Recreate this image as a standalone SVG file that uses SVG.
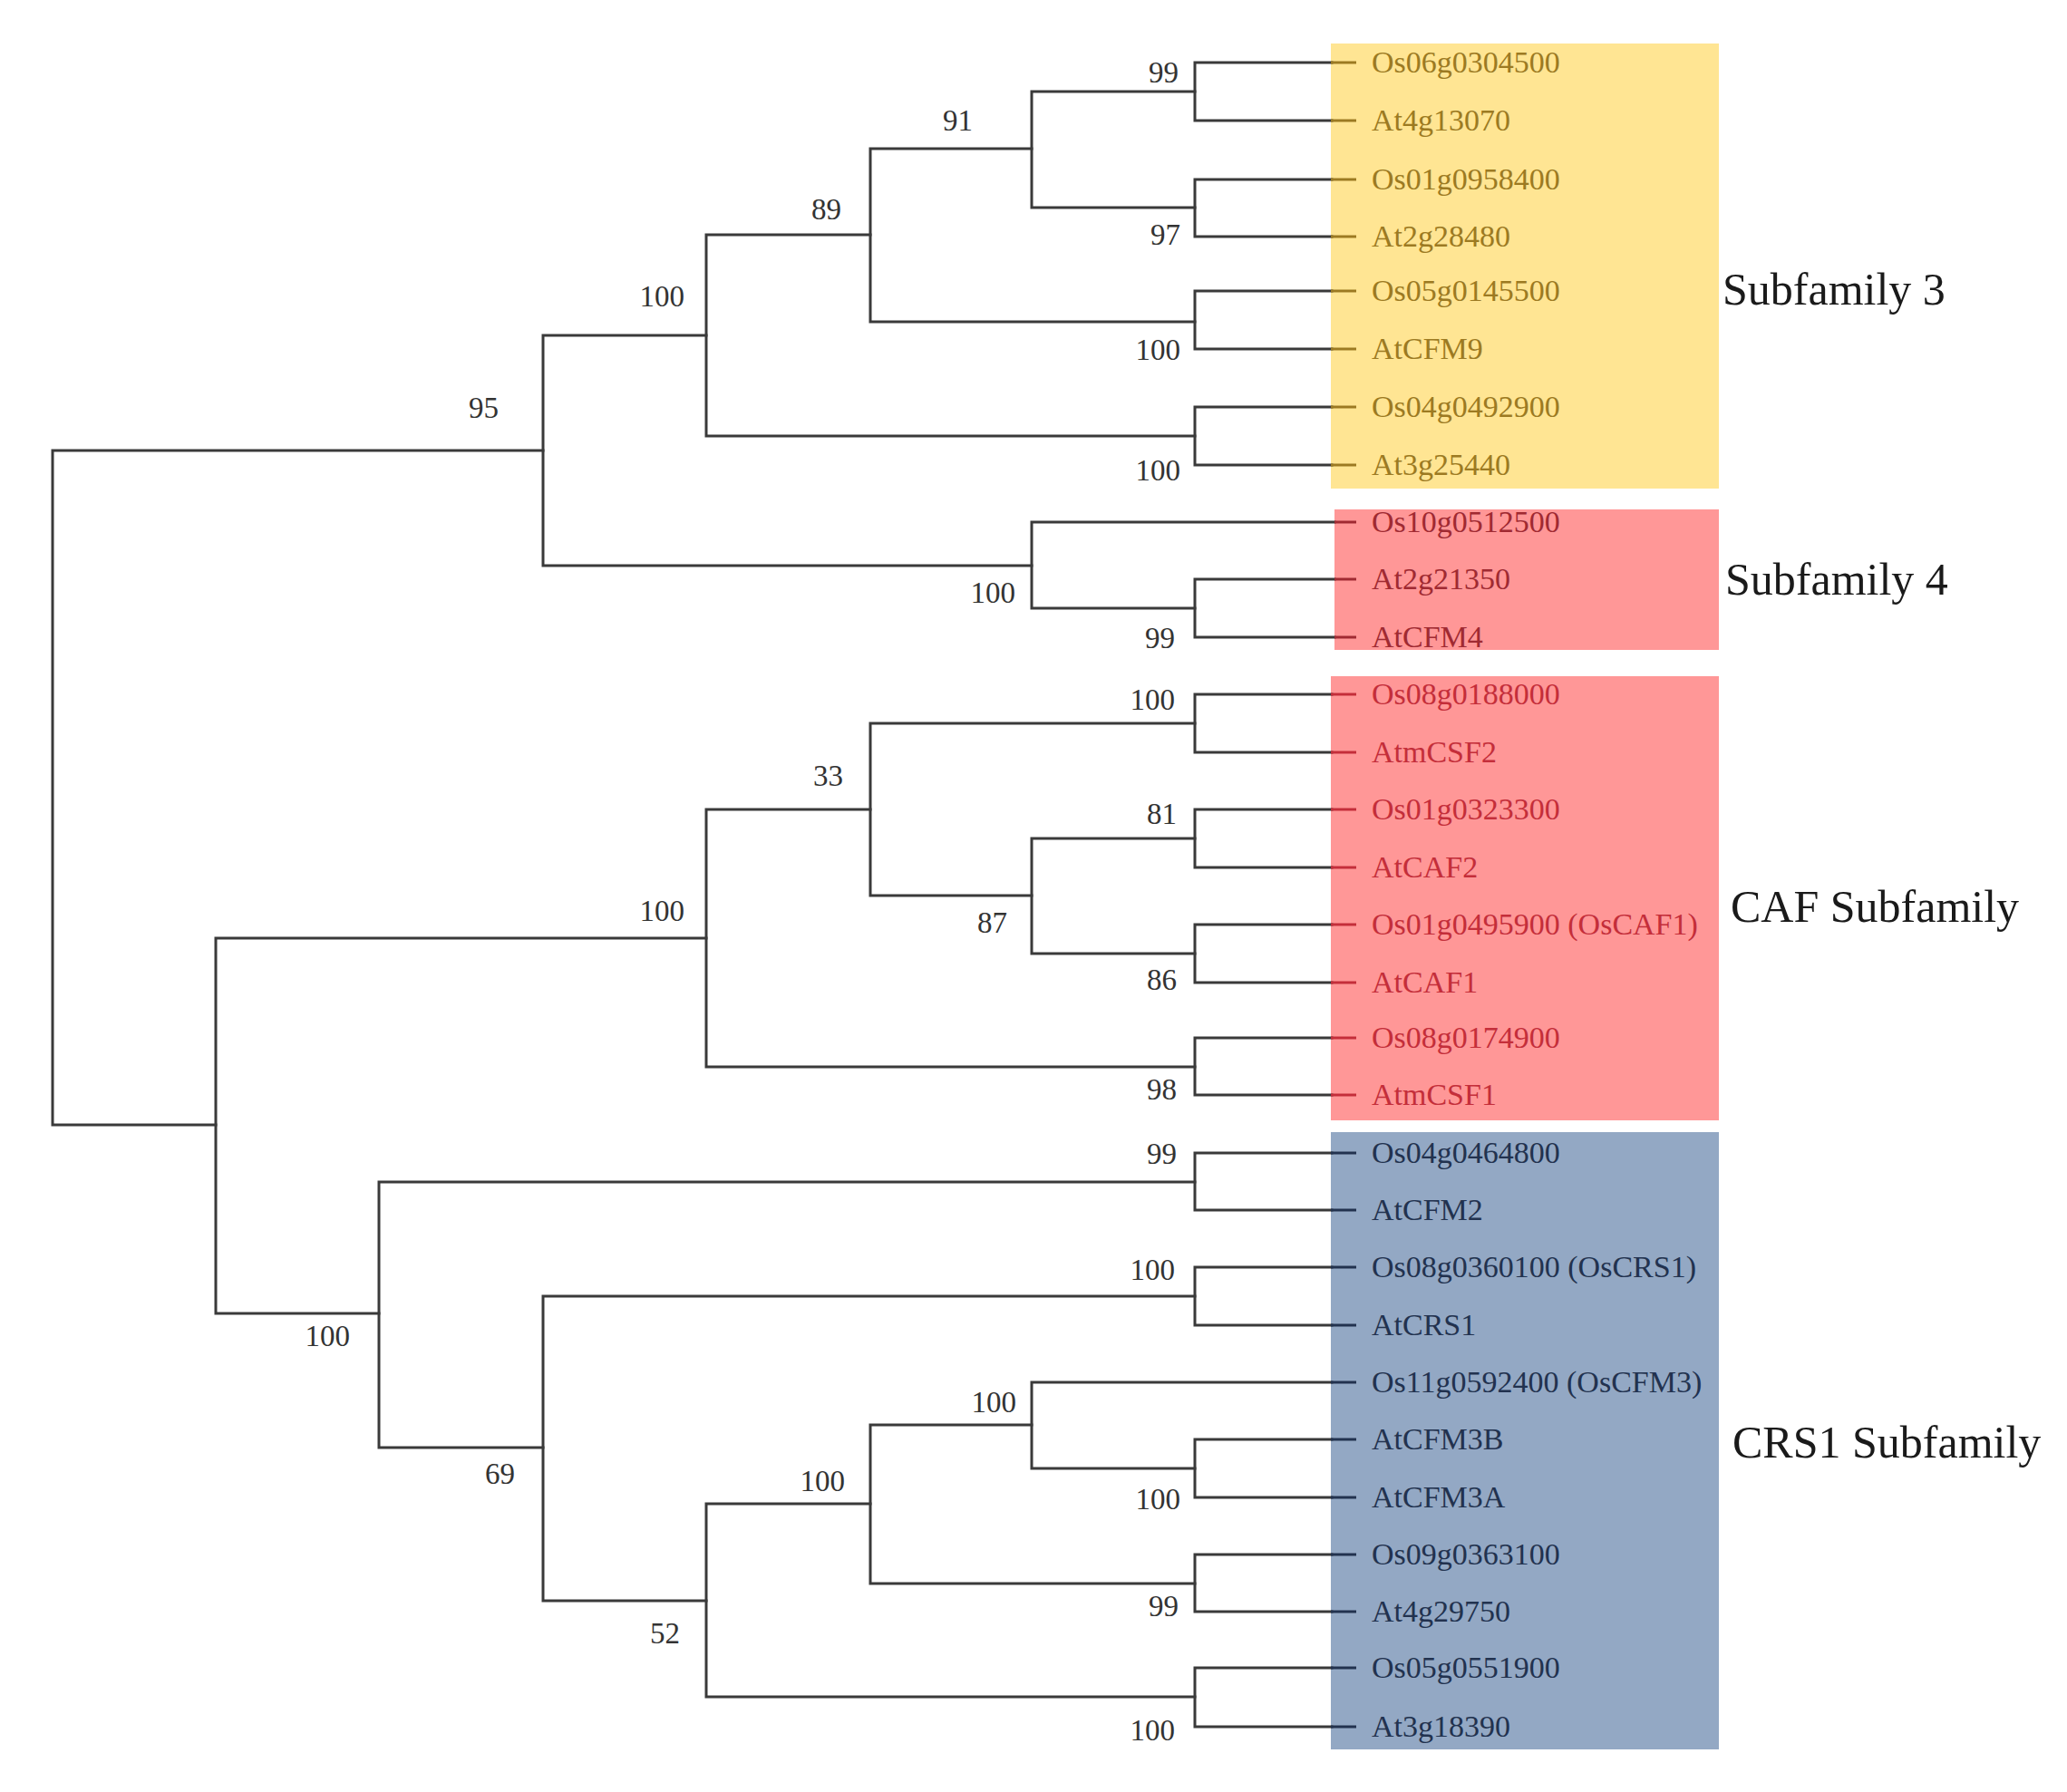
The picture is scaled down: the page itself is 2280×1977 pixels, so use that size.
<svg xmlns="http://www.w3.org/2000/svg" width="2280" height="1977" viewBox="0 0 2280 1977">
<style>
.br{fill:none;stroke:#3a3a3a;stroke-width:3;stroke-linecap:square}
.tip{font-family:"Liberation Serif","Times New Roman",serif;font-size:34px}
.bs{font-family:"Liberation Serif","Times New Roman",serif;font-size:33px;fill:#333}
.grp{font-family:"Liberation Serif","Times New Roman",serif;font-size:50px;fill:#1a1a1a}
.y{fill:#9c7a22}.r4{fill:#a02a32}.r{fill:#c42e3a}.b{fill:#22324f}
.ys{stroke:#9c7a22;stroke-width:3}.r4s{stroke:#a02a32;stroke-width:3}.rs{stroke:#c42e3a;stroke-width:3}.bsS{stroke:#22324f;stroke-width:3}
</style>
<rect width="2280" height="1977" fill="#ffffff"/>
<g id="boxes">
<rect id="box-sub3" x="1468" y="48" width="428" height="491" fill="#ffe593"/>
<rect id="box-sub4" x="1472" y="562" width="424" height="155" fill="#ff9797"/>
<rect id="box-caf" x="1468" y="746" width="428" height="490" fill="#ff9797"/>
<rect id="box-crs1" x="1468" y="1249" width="428" height="681" fill="#93a8c4"/>
</g>
<g id="connectors">
<!-- root -->
<path class="br" d="M599 497 H58 V1241 H238"/>
<!-- Subfamily 3 + 4 -->
<path class="br" d="M779 370 H599 V624 H1138"/>
<path class="br" d="M960 259 H779 V481 H1318"/>
<path class="br" d="M1138 164 H960 V355 H1318"/>
<path class="br" d="M1318 101 H1138 V229 H1318"/>
<path class="br" d="M1469 69 H1318 V133 H1469"/>
<path class="br" d="M1469 198 H1318 V261 H1469"/>
<path class="br" d="M1469 321 H1318 V385 H1469"/>
<path class="br" d="M1469 449 H1318 V513 H1469"/>
<path class="br" d="M1472 576 H1138 V671 H1318"/>
<path class="br" d="M1472 639 H1318 V703 H1472"/>
<!-- CAF -->
<path class="br" d="M779 1035 H238 V1449 H418"/>
<path class="br" d="M960 893 H779 V1177 H1318"/>
<path class="br" d="M1318 798 H960 V988 H1138"/>
<path class="br" d="M1318 925 H1138 V1052 H1318"/>
<path class="br" d="M1469 766 H1318 V830 H1469"/>
<path class="br" d="M1469 893 H1318 V957 H1469"/>
<path class="br" d="M1469 1020 H1318 V1084 H1469"/>
<path class="br" d="M1469 1145 H1318 V1208 H1469"/>
<!-- CRS1 -->
<path class="br" d="M1318 1304 H418 V1597 H599"/>
<path class="br" d="M1469 1272 H1318 V1335 H1469"/>
<path class="br" d="M1318 1430 H599 V1766 H779"/>
<path class="br" d="M1469 1398 H1318 V1462 H1469"/>
<path class="br" d="M960 1659 H779 V1872 H1318"/>
<path class="br" d="M1138 1572 H960 V1747 H1318"/>
<path class="br" d="M1469 1525 H1138 V1620 H1318"/>
<path class="br" d="M1469 1588 H1318 V1652 H1469"/>
<path class="br" d="M1469 1715 H1318 V1778 H1469"/>
<path class="br" d="M1469 1840 H1318 V1905 H1469"/>
<!-- tip stubs inside boxes -->
<g class="ys">
<line x1="1468" y1="69" x2="1496" y2="69"/><line x1="1468" y1="133" x2="1496" y2="133"/>
<line x1="1468" y1="198" x2="1496" y2="198"/><line x1="1468" y1="261" x2="1496" y2="261"/>
<line x1="1468" y1="321" x2="1496" y2="321"/><line x1="1468" y1="385" x2="1496" y2="385"/>
<line x1="1468" y1="449" x2="1496" y2="449"/><line x1="1468" y1="513" x2="1496" y2="513"/>
</g>
<g class="r4s">
<line x1="1472" y1="576" x2="1496" y2="576"/><line x1="1472" y1="639" x2="1496" y2="639"/><line x1="1472" y1="703" x2="1496" y2="703"/>
</g>
<g class="rs">
<line x1="1468" y1="766" x2="1496" y2="766"/><line x1="1468" y1="830" x2="1496" y2="830"/>
<line x1="1468" y1="893" x2="1496" y2="893"/><line x1="1468" y1="957" x2="1496" y2="957"/>
<line x1="1468" y1="1020" x2="1496" y2="1020"/><line x1="1468" y1="1084" x2="1496" y2="1084"/>
<line x1="1468" y1="1145" x2="1496" y2="1145"/><line x1="1468" y1="1208" x2="1496" y2="1208"/>
</g>
<g class="bsS">
<line x1="1468" y1="1272" x2="1496" y2="1272"/><line x1="1468" y1="1335" x2="1496" y2="1335"/>
<line x1="1468" y1="1398" x2="1496" y2="1398"/><line x1="1468" y1="1462" x2="1496" y2="1462"/>
<line x1="1468" y1="1525" x2="1496" y2="1525"/><line x1="1468" y1="1588" x2="1496" y2="1588"/>
<line x1="1468" y1="1652" x2="1496" y2="1652"/><line x1="1468" y1="1715" x2="1496" y2="1715"/>
<line x1="1468" y1="1778" x2="1496" y2="1778"/><line x1="1468" y1="1840" x2="1496" y2="1840"/>
<line x1="1468" y1="1905" x2="1496" y2="1905"/>
</g>
</g>
<g id="tips">
<g id="tips-sub3" class="tip y">
<text x="1513" y="80">Os06g0304500</text>
<text x="1513" y="144">At4g13070</text>
<text x="1513" y="209">Os01g0958400</text>
<text x="1513" y="272">At2g28480</text>
<text x="1513" y="332">Os05g0145500</text>
<text x="1513" y="396">AtCFM9</text>
<text x="1513" y="460">Os04g0492900</text>
<text x="1513" y="524">At3g25440</text>
</g>
<g id="tips-sub4" class="tip r4">
<text x="1513" y="587">Os10g0512500</text>
<text x="1513" y="650">At2g21350</text>
<text x="1513" y="714">AtCFM4</text>
</g>
<g id="tips-caf" class="tip r">
<text x="1513" y="777">Os08g0188000</text>
<text x="1513" y="841">AtmCSF2</text>
<text x="1513" y="904">Os01g0323300</text>
<text x="1513" y="968">AtCAF2</text>
<text x="1513" y="1031">Os01g0495900 (OsCAF1)</text>
<text x="1513" y="1095">AtCAF1</text>
<text x="1513" y="1156">Os08g0174900</text>
<text x="1513" y="1219">AtmCSF1</text>
</g>
<g id="tips-crs1" class="tip b">
<text x="1513" y="1283">Os04g0464800</text>
<text x="1513" y="1346">AtCFM2</text>
<text x="1513" y="1409">Os08g0360100 (OsCRS1)</text>
<text x="1513" y="1473">AtCRS1</text>
<text x="1513" y="1536">Os11g0592400 (OsCFM3)</text>
<text x="1513" y="1599">AtCFM3B</text>
<text x="1513" y="1663">AtCFM3A</text>
<text x="1513" y="1726">Os09g0363100</text>
<text x="1513" y="1789">At4g29750</text>
<text x="1513" y="1851">Os05g0551900</text>
<text x="1513" y="1916">At3g18390</text>
</g>
</g>
<g id="bootstrap" class="bs">
<g text-anchor="end">
<text x="1300" y="91">99</text>
<text x="1302" y="270">97</text>
<text x="1302" y="397">100</text>
<text x="1302" y="530">100</text>
<text x="1120" y="665">100</text>
<text x="1296" y="715">99</text>
<text x="1296" y="783">100</text>
<text x="1298" y="909">81</text>
<text x="1298" y="1092">86</text>
<text x="1298" y="1213">98</text>
<text x="1298" y="1284">99</text>
<text x="1296" y="1412">100</text>
<text x="1302" y="1665">100</text>
<text x="1300" y="1783">99</text>
<text x="1296" y="1920">100</text>
<text x="1073" y="144">91</text>
<text x="928" y="242">89</text>
<text x="755" y="338">100</text>
<text x="550" y="461">95</text>
<text x="930" y="867">33</text>
<text x="755" y="1016">100</text>
<text x="1111" y="1029">87</text>
<text x="386" y="1485">100</text>
<text x="568" y="1637">69</text>
<text x="750" y="1813">52</text>
<text x="932" y="1645">100</text>
<text x="1121" y="1558">100</text>
</g>
</g>
<g id="group-labels" class="grp">
<text x="1900" y="336">Subfamily 3</text>
<text x="1903" y="656">Subfamily 4</text>
<text x="1909" y="1017">CAF Subfamily</text>
<text x="1911" y="1608">CRS1 Subfamily</text>
</g>
</svg>
